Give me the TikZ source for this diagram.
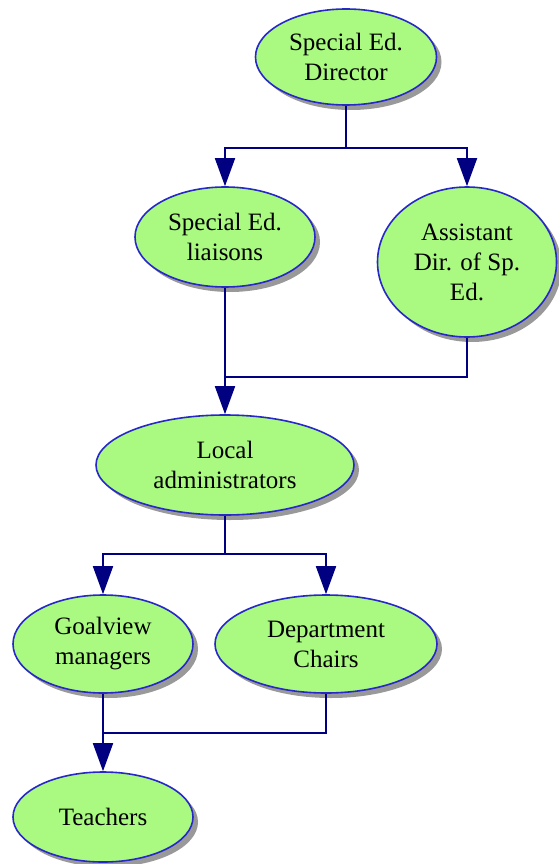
\documentclass[tikz,border=0pt]{standalone}
\usepackage{fontspec}
\setmainfont{Liberation Serif}
\usetikzlibrary{shapes.geometric,arrows.meta,shadows,calc}
\definecolor{nodefill}{RGB}{170,250,130}
\definecolor{nodeedge}{RGB}{40,40,200}
\definecolor{linknavy}{RGB}{0,0,128}
\tikzset{
  x=1pt, y=-1pt,
  role/.style={ellipse, draw=nodeedge, line width=1.6pt, fill=nodefill,
    inner sep=0pt, align=center, text=black,
    font=\fontsize{25}{30}\selectfont,
    drop shadow={shadow xshift=5pt, shadow yshift=-5pt, fill=black, opacity=0.4}},
  link/.style={draw=linknavy, line width=1.8pt},
  tolink/.style={link, -{Triangle[width=20pt,length=28pt]}}
}
\begin{document}
\begin{tikzpicture}
\useasboundingbox (0,0) rectangle (559,864);

\node[role, minimum width=181pt, minimum height=96pt] (dir) at (346,57) {Special Ed.\\Director};
\node[role, minimum width=180pt, minimum height=100pt] (lia) at (225,237) {Special Ed.\\liaisons};
\node[role, minimum width=179pt, minimum height=150pt] (asst) at (467,262) {Assistant\\Dir. of Sp.\\Ed.};
\node[role, minimum width=258pt, minimum height=100pt] (loc) at (225,465) {Local\\administrators};
\node[role, minimum width=180pt, minimum height=98pt] (gv) at (103,644) {Goalview\\managers};
\node[role, minimum width=222pt, minimum height=98pt] (dc) at (326,644) {Department\\Chairs};
\node[role, minimum width=180pt, minimum height=90pt] (tch) at (103,817) {Teachers};

\coordinate (j1) at (346,148);
\coordinate (j2) at (225,377);
\coordinate (j3) at (225,554);
\coordinate (j4) at (103,733);

\draw[link] (dir.south) -- (j1);
\draw[tolink] (j1) -| (lia.north);
\draw[tolink] (j1) -| (asst.north);

\draw[link] (asst.south) |- (j2);
\draw[tolink] (lia.south) -- (loc.north);

\draw[link] (loc.south) -- (j3);
\draw[tolink] (j3) -| (gv.north);
\draw[tolink] (j3) -| (dc.north);

\draw[link] (dc.south) |- (j4);
\draw[tolink] (gv.south) -- (tch.north);
\end{tikzpicture}
\end{document}
